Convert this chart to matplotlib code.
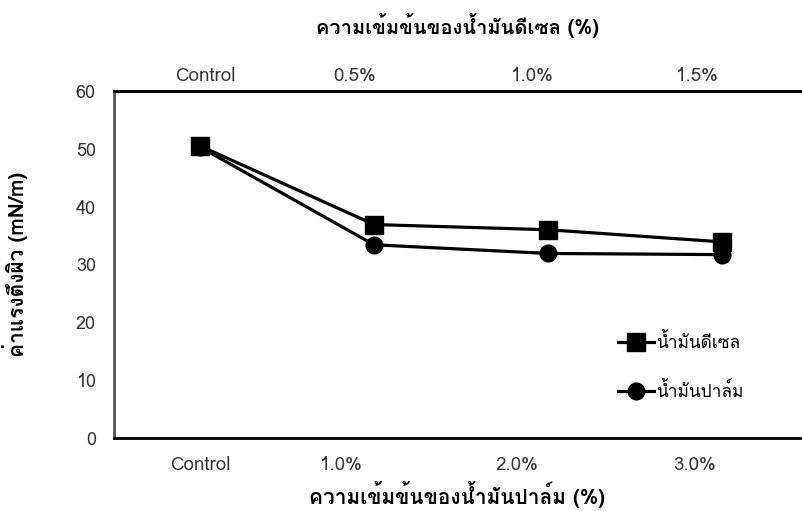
import matplotlib
matplotlib.use("Agg")
import matplotlib.pyplot as plt
from matplotlib import font_manager as fm
from matplotlib.ft2font import FT2Font

# Data: surface tension (mN/m) for each concentration level
palm_labels = ["Control", "1.0%", "2.0%", "3.0%"]
diesel_labels = ["Control", "0.5%", "1.0%", "1.5%"]
diesel_values = [50.5, 36.9, 36.0, 33.9]
palm_values = [50.3, 33.4, 31.9, 31.7]

# Pick an installed font that covers Thai script
thai_fonts = []
for f in fm.fontManager.ttflist:
    try:
        cmap = FT2Font(f.fname).get_charmap()
        if 0x0E01 in cmap and 0x0E49 in cmap:
            thai_fonts.append(f.name)
    except Exception:
        pass
if "Loma" in thai_fonts:
    thai_fonts.insert(0, "Loma")
families = ([thai_fonts[0]] if thai_fonts else []) + ["DejaVu Sans"]
plt.rcParams["font.family"] = families

fig = plt.figure(figsize=(8.02, 5.11), dpi=100)
ax = fig.add_axes([0.142, 0.143, 0.856, 0.679])

x = list(range(len(palm_values)))
ax.plot(x, palm_values, color="black", lw=2.3, marker="o", ms=12,
        label="น้ำมันปาล์ม", zorder=3)
ax.plot(x, diesel_values, color="black", lw=2.3, marker="s", ms=13,
        label="น้ำมันดีเซล", zorder=4)

ax.set_xlim(-0.495, 3.45)
ax.set_ylim(0, 60)
ax.set_yticks(range(0, 61, 10))
ax.tick_params(axis="y", length=0, pad=13, labelsize=13, labelcolor="#333333")

ax.set_xticks([0, 0.81, 1.82, 2.84])
ax.set_xticklabels(palm_labels)
ax.tick_params(axis="x", length=0, pad=13, labelsize=13.5, labelcolor="#333333")

top = ax.secondary_xaxis("top")
top.set_xticks([0.03, 0.89, 1.91, 2.86])
top.set_xticklabels(diesel_labels)
top.tick_params(length=0, pad=4, labelsize=13.5, labelcolor="#333333")
top.spines["top"].set_linewidth(2)
top.spines["top"].set_color("black")
top.set_xlabel("ความเข้มข้นของน้ำมันดีเซล (%)", fontsize=14.5, fontweight="bold",
               labelpad=24)

ax.spines["right"].set_visible(False)
ax.spines["top"].set_linewidth(2)
ax.spines["bottom"].set_linewidth(2)
ax.spines["left"].set_linewidth(2)
ax.spines["left"].set_color("#555555")

ax.set_xlabel("ความเข้มข้นของน้ำมันปาล์ม (%)", fontsize=15, fontweight="bold",
              labelpad=5)
ax.set_ylabel("ค่าแรงตึงผิว (mN/m)", fontsize=15, fontweight="bold", labelpad=34)

handles, labels = ax.get_legend_handles_labels()
ax.legend(handles[::-1], labels[::-1], loc="lower right", frameon=False,
          fontsize=12.5, bbox_to_anchor=(0.94, 0.06), handlelength=2.1,
          handletextpad=0.1, labelspacing=1.75)

fig.savefig("out.png", dpi=100)
